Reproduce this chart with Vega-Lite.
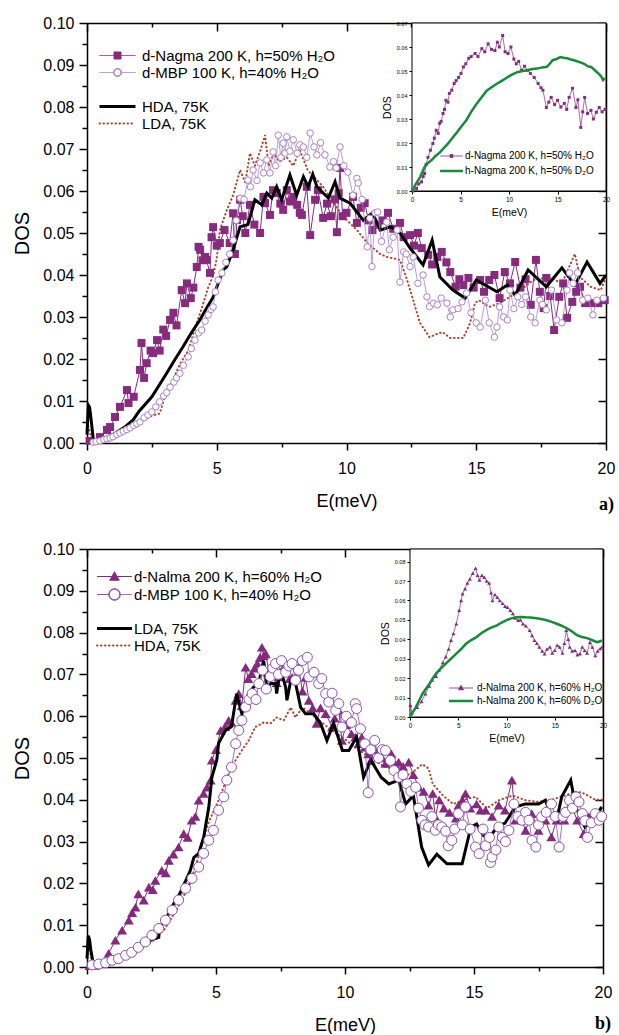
{
"padding": {"left": 12, "top": 15, "right": 0, "bottom": 0},
"autosize": {"type": "pad"},
"spacing": 27,
"config": {
  "view": {"stroke": null},
  "axis": {"grid": false, "domainColor": "black", "tickColor": "black", "labelColor": "black", "titleColor": "black", "labelFont": "Liberation Sans", "titleFont": "Liberation Sans", "titleFontWeight": "normal", "zindex": 1, "labelFlush": false, "labelOverlap": false},
  "legend": {"labelFont": "Liberation Sans", "labelColor": "black"}
},
"datasets": {
"A": [
{"s":"N","E":0.1,"D":0.0005},{"s":"N","E":0.5,"D":0.0014},{"s":"N","E":0.77,"D":0.0031},{"s":"N","E":0.89,"D":0.0038},{"s":"N","E":1.08,"D":0.0062},{"s":"N","E":1.27,"D":0.0086},{"s":"N","E":1.54,"D":0.0126},{"s":"N","E":1.6,"D":0.0095},{"s":"N","E":1.8,"D":0.011},{"s":"N","E":2.04,"D":0.0174},{"s":"N","E":2.1,"D":0.0238},{"s":"N","E":2.2,"D":0.0155},{"s":"N","E":2.3,"D":0.019},{"s":"N","E":2.45,"D":0.022},{"s":"N","E":2.55,"D":0.0214},{"s":"N","E":2.7,"D":0.0245},{"s":"N","E":2.8,"D":0.022},{"s":"N","E":2.94,"D":0.027},{"s":"N","E":3.05,"D":0.0255},{"s":"N","E":3.2,"D":0.0293},{"s":"N","E":3.33,"D":0.031},{"s":"N","E":3.45,"D":0.028},{"s":"N","E":3.65,"D":0.0364},{"s":"N","E":3.78,"D":0.0333},{"s":"N","E":3.85,"D":0.038},{"s":"N","E":4.0,"D":0.0345},{"s":"N","E":4.1,"D":0.037},{"s":"N","E":4.23,"D":0.0419},{"s":"N","E":4.3,"D":0.0467},{"s":"N","E":4.36,"D":0.046},{"s":"N","E":4.45,"D":0.0435},{"s":"N","E":4.55,"D":0.0443},{"s":"N","E":4.6,"D":0.0436},{"s":"N","E":4.74,"D":0.0405},{"s":"N","E":4.8,"D":0.049},{"s":"N","E":4.86,"D":0.0514},{"s":"N","E":5.0,"D":0.047},{"s":"N","E":5.12,"D":0.0476},{"s":"N","E":5.3,"D":0.0507},{"s":"N","E":5.5,"D":0.0476},{"s":"N","E":5.63,"D":0.0547},{"s":"N","E":5.7,"D":0.045},{"s":"N","E":5.78,"D":0.0531},{"s":"N","E":5.9,"D":0.0579},{"s":"N","E":6.0,"D":0.054},{"s":"N","E":6.1,"D":0.05},{"s":"N","E":6.28,"D":0.0567},{"s":"N","E":6.45,"D":0.052},{"s":"N","E":6.67,"D":0.05},{"s":"N","E":6.8,"D":0.0586},{"s":"N","E":6.86,"D":0.0571},{"s":"N","E":7.05,"D":0.0543},{"s":"N","E":7.17,"D":0.0602},{"s":"N","E":7.31,"D":0.0595},{"s":"N","E":7.45,"D":0.057},{"s":"N","E":7.56,"D":0.0555},{"s":"N","E":7.7,"D":0.0602},{"s":"N","E":7.82,"D":0.0575},{"s":"N","E":7.95,"D":0.0586},{"s":"N","E":8.1,"D":0.0567},{"s":"N","E":8.2,"D":0.0548},{"s":"N","E":8.28,"D":0.0543},{"s":"N","E":8.47,"D":0.061},{"s":"N","E":8.6,"D":0.0495},{"s":"N","E":8.79,"D":0.0579},{"s":"N","E":8.9,"D":0.0602},{"s":"N","E":9.1,"D":0.0536},{"s":"N","E":9.25,"D":0.057},{"s":"N","E":9.4,"D":0.054},{"s":"N","E":9.55,"D":0.058},{"s":"N","E":9.63,"D":0.0502},{"s":"N","E":9.7,"D":0.0595},{"s":"N","E":9.75,"D":0.0655},{"s":"N","E":9.85,"D":0.054},{"s":"N","E":10.0,"D":0.0548},{"s":"N","E":10.25,"D":0.0586},{"s":"N","E":10.4,"D":0.0524},{"s":"N","E":10.55,"D":0.056},{"s":"N","E":10.7,"D":0.0571},{"s":"N","E":10.85,"D":0.053},{"s":"N","E":11.0,"D":0.0507},{"s":"N","E":11.2,"D":0.052},{"s":"N","E":11.4,"D":0.053},{"s":"N","E":11.6,"D":0.0548},{"s":"N","E":11.8,"D":0.051},{"s":"N","E":12.06,"D":0.0524},{"s":"N","E":12.2,"D":0.049},{"s":"N","E":12.45,"D":0.0495},{"s":"N","E":12.6,"D":0.047},{"s":"N","E":12.75,"D":0.05},{"s":"N","E":12.9,"D":0.0464},{"s":"N","E":13.15,"D":0.0448},{"s":"N","E":13.3,"D":0.0425},{"s":"N","E":13.5,"D":0.0443},{"s":"N","E":13.67,"D":0.0455},{"s":"N","E":13.85,"D":0.043},{"s":"N","E":14.0,"D":0.0407},{"s":"N","E":14.2,"D":0.0372},{"s":"N","E":14.35,"D":0.039},{"s":"N","E":14.5,"D":0.0376},{"s":"N","E":14.7,"D":0.0393},{"s":"N","E":14.9,"D":0.037},{"s":"N","E":15.15,"D":0.0388},{"s":"N","E":15.3,"D":0.036},{"s":"N","E":15.5,"D":0.0388},{"s":"N","E":15.7,"D":0.04},{"s":"N","E":15.9,"D":0.0345},{"s":"N","E":16.1,"D":0.0407},{"s":"N","E":16.3,"D":0.038},{"s":"N","E":16.5,"D":0.0431},{"s":"N","E":16.7,"D":0.037},{"s":"N","E":16.9,"D":0.039},{"s":"N","E":17.1,"D":0.0329},{"s":"N","E":17.3,"D":0.0436},{"s":"N","E":17.45,"D":0.036},{"s":"N","E":17.6,"D":0.0321},{"s":"N","E":17.7,"D":0.0393},{"s":"N","E":17.85,"D":0.035},{"s":"N","E":18.0,"D":0.0269},{"s":"N","E":18.2,"D":0.0348},{"s":"N","E":18.35,"D":0.038},{"s":"N","E":18.5,"D":0.0298},{"s":"N","E":18.7,"D":0.0336},{"s":"N","E":18.85,"D":0.036},{"s":"N","E":19.0,"D":0.0372},{"s":"N","E":19.2,"D":0.0333},{"s":"N","E":19.45,"D":0.0333},{"s":"N","E":19.7,"D":0.0333},{"s":"N","E":19.95,"D":0.034},
{"s":"M","E":0.24,"D":0.0002},{"s":"M","E":0.35,"D":0.0003},{"s":"M","E":0.5,"D":0.0005},{"s":"M","E":0.65,"D":0.0008},{"s":"M","E":0.77,"D":0.001},{"s":"M","E":0.89,"D":0.0012},{"s":"M","E":1.0,"D":0.0015},{"s":"M","E":1.15,"D":0.002},{"s":"M","E":1.27,"D":0.0024},{"s":"M","E":1.4,"D":0.0028},{"s":"M","E":1.53,"D":0.0032},{"s":"M","E":1.66,"D":0.0036},{"s":"M","E":1.8,"D":0.0042},{"s":"M","E":1.92,"D":0.0046},{"s":"M","E":2.04,"D":0.005},{"s":"M","E":2.2,"D":0.006},{"s":"M","E":2.35,"D":0.0067},{"s":"M","E":2.5,"D":0.0074},{"s":"M","E":2.65,"D":0.0086},{"s":"M","E":2.8,"D":0.0098},{"s":"M","E":2.95,"D":0.0112},{"s":"M","E":3.07,"D":0.012},{"s":"M","E":3.2,"D":0.0133},{"s":"M","E":3.35,"D":0.0145},{"s":"M","E":3.45,"D":0.0155},{"s":"M","E":3.58,"D":0.0166},{"s":"M","E":3.72,"D":0.0185},{"s":"M","E":3.9,"D":0.0205},{"s":"M","E":4.02,"D":0.0225},{"s":"M","E":4.16,"D":0.0245},{"s":"M","E":4.3,"D":0.0262},{"s":"M","E":4.42,"D":0.0269},{"s":"M","E":4.55,"D":0.029},{"s":"M","E":4.67,"D":0.0305},{"s":"M","E":4.78,"D":0.0318},{"s":"M","E":4.86,"D":0.0324},{"s":"M","E":4.95,"D":0.036},{"s":"M","E":5.05,"D":0.0388},{"s":"M","E":5.2,"D":0.0405},{"s":"M","E":5.35,"D":0.043},{"s":"M","E":5.5,"D":0.045},{"s":"M","E":5.63,"D":0.0483},{"s":"M","E":5.75,"D":0.053},{"s":"M","E":5.9,"D":0.0583},{"s":"M","E":6.05,"D":0.058},{"s":"M","E":6.2,"D":0.0626},{"s":"M","E":6.3,"D":0.061},{"s":"M","E":6.4,"D":0.065},{"s":"M","E":6.55,"D":0.0625},{"s":"M","E":6.67,"D":0.0667},{"s":"M","E":6.8,"D":0.0643},{"s":"M","E":6.93,"D":0.0674},{"s":"M","E":7.05,"D":0.0643},{"s":"M","E":7.17,"D":0.0693},{"s":"M","E":7.27,"D":0.066},{"s":"M","E":7.37,"D":0.0733},{"s":"M","E":7.47,"D":0.068},{"s":"M","E":7.56,"D":0.0714},{"s":"M","E":7.63,"D":0.069},{"s":"M","E":7.7,"D":0.0729},{"s":"M","E":7.82,"D":0.0695},{"s":"M","E":7.95,"D":0.0722},{"s":"M","E":8.1,"D":0.069},{"s":"M","E":8.2,"D":0.071},{"s":"M","E":8.34,"D":0.0705},{"s":"M","E":8.47,"D":0.068},{"s":"M","E":8.6,"D":0.0738},{"s":"M","E":8.75,"D":0.0705},{"s":"M","E":8.86,"D":0.0686},{"s":"M","E":9.0,"D":0.0715},{"s":"M","E":9.17,"D":0.0686},{"s":"M","E":9.36,"D":0.0657},{"s":"M","E":9.5,"D":0.067},{"s":"M","E":9.6,"D":0.0655},{"s":"M","E":9.75,"D":0.0705},{"s":"M","E":9.9,"D":0.066},{"s":"M","E":10.05,"D":0.0645},{"s":"M","E":10.25,"D":0.059},{"s":"M","E":10.4,"D":0.063},{"s":"M","E":10.45,"D":0.0619},{"s":"M","E":10.6,"D":0.058},{"s":"M","E":10.8,"D":0.0467},{"s":"M","E":10.9,"D":0.0535},{"s":"M","E":10.98,"D":0.042},{"s":"M","E":11.1,"D":0.0548},{"s":"M","E":11.2,"D":0.055},{"s":"M","E":11.35,"D":0.048},{"s":"M","E":11.55,"D":0.0526},{"s":"M","E":11.65,"D":0.046},{"s":"M","E":11.8,"D":0.049},{"s":"M","E":11.95,"D":0.0507},{"s":"M","E":12.06,"D":0.0383},{"s":"M","E":12.2,"D":0.0455},{"s":"M","E":12.3,"D":0.045},{"s":"M","E":12.45,"D":0.042},{"s":"M","E":12.57,"D":0.0443},{"s":"M","E":12.75,"D":0.038},{"s":"M","E":12.95,"D":0.04},{"s":"M","E":13.1,"D":0.0348},{"s":"M","E":13.2,"D":0.0325},{"s":"M","E":13.35,"D":0.0333},{"s":"M","E":13.5,"D":0.0329},{"s":"M","E":13.65,"D":0.0345},{"s":"M","E":13.87,"D":0.0333},{"s":"M","E":14.0,"D":0.03},{"s":"M","E":14.1,"D":0.0317},{"s":"M","E":14.3,"D":0.032},{"s":"M","E":14.45,"D":0.0336},{"s":"M","E":14.63,"D":0.0357},{"s":"M","E":14.8,"D":0.031},{"s":"M","E":15.0,"D":0.0286},{"s":"M","E":15.15,"D":0.0276},{"s":"M","E":15.35,"D":0.034},{"s":"M","E":15.5,"D":0.0286},{"s":"M","E":15.7,"D":0.0252},{"s":"M","E":15.8,"D":0.0276},{"s":"M","E":15.9,"D":0.0324},{"s":"M","E":16.05,"D":0.03},{"s":"M","E":16.2,"D":0.0293},{"s":"M","E":16.3,"D":0.0364},{"s":"M","E":16.45,"D":0.032},{"s":"M","E":16.6,"D":0.0348},{"s":"M","E":16.75,"D":0.033},{"s":"M","E":16.9,"D":0.0348},{"s":"M","E":17.1,"D":0.03},{"s":"M","E":17.27,"D":0.0286},{"s":"M","E":17.45,"D":0.034},{"s":"M","E":17.55,"D":0.033},{"s":"M","E":17.7,"D":0.0317},{"s":"M","E":17.9,"D":0.0364},{"s":"M","E":18.1,"D":0.0293},{"s":"M","E":18.3,"D":0.0286},{"s":"M","E":18.5,"D":0.0364},{"s":"M","E":18.6,"D":0.0405},{"s":"M","E":18.73,"D":0.038},{"s":"M","E":18.9,"D":0.0405},{"s":"M","E":19.1,"D":0.034},{"s":"M","E":19.3,"D":0.0345},{"s":"M","E":19.5,"D":0.0305},{"s":"M","E":19.65,"D":0.034},{"s":"M","E":19.9,"D":0.0345},
{"s":"H","E":0.0,"D":0.002},{"s":"H","E":0.05,"D":0.009},{"s":"H","E":0.1,"D":0.0085},{"s":"H","E":0.15,"D":0.006},{"s":"H","E":0.25,"D":0.0005},{"s":"H","E":0.5,"D":0.0008},{"s":"H","E":1.0,"D":0.002},{"s":"H","E":1.5,"D":0.004},{"s":"H","E":1.78,"D":0.0055},{"s":"H","E":2.0,"D":0.0075},{"s":"H","E":2.5,"D":0.011},{"s":"H","E":3.07,"D":0.0166},{"s":"H","E":3.4,"D":0.02},{"s":"H","E":3.7,"D":0.0229},{"s":"H","E":4.0,"D":0.026},{"s":"H","E":4.35,"D":0.0293},{"s":"H","E":4.6,"D":0.032},{"s":"H","E":4.87,"D":0.0348},{"s":"H","E":5.05,"D":0.038},{"s":"H","E":5.25,"D":0.0412},{"s":"H","E":5.39,"D":0.042},{"s":"H","E":5.63,"D":0.046},{"s":"H","E":5.78,"D":0.0491},{"s":"H","E":5.9,"D":0.0515},{"s":"H","E":6.2,"D":0.052},{"s":"H","E":6.47,"D":0.0579},{"s":"H","E":6.74,"D":0.0567},{"s":"H","E":6.93,"D":0.0595},{"s":"H","E":7.12,"D":0.0583},{"s":"H","E":7.31,"D":0.061},{"s":"H","E":7.5,"D":0.0579},{"s":"H","E":7.82,"D":0.0638},{"s":"H","E":8.08,"D":0.059},{"s":"H","E":8.34,"D":0.0634},{"s":"H","E":8.52,"D":0.061},{"s":"H","E":8.7,"D":0.064},{"s":"H","E":8.86,"D":0.061},{"s":"H","E":9.3,"D":0.0583},{"s":"H","E":9.56,"D":0.0622},{"s":"H","E":9.75,"D":0.0583},{"s":"H","E":10.14,"D":0.0571},{"s":"H","E":10.4,"D":0.055},{"s":"H","E":10.65,"D":0.053},{"s":"H","E":11.0,"D":0.0548},{"s":"H","E":11.3,"D":0.0507},{"s":"H","E":11.7,"D":0.0515},{"s":"H","E":12.06,"D":0.05},{"s":"H","E":12.45,"D":0.0464},{"s":"H","E":12.95,"D":0.0424},{"s":"H","E":13.3,"D":0.0483},{"s":"H","E":13.6,"D":0.0395},{"s":"H","E":14.1,"D":0.0364},{"s":"H","E":14.57,"D":0.0345},{"s":"H","E":15.0,"D":0.0388},{"s":"H","E":15.8,"D":0.036},{"s":"H","E":16.2,"D":0.0376},{"s":"H","E":16.5,"D":0.0352},{"s":"H","E":17.0,"D":0.0412},{"s":"H","E":17.7,"D":0.0372},{"s":"H","E":18.3,"D":0.0417},{"s":"H","E":18.8,"D":0.0376},{"s":"H","E":19.27,"D":0.0431},{"s":"H","E":19.77,"D":0.038},{"s":"H","E":20.0,"D":0.04},
{"s":"L","E":0.05,"D":0.004},{"s":"L","E":0.2,"D":0.0005},{"s":"L","E":0.5,"D":0.0005},{"s":"L","E":1.0,"D":0.0015},{"s":"L","E":1.5,"D":0.003},{"s":"L","E":2.0,"D":0.005},{"s":"L","E":2.5,"D":0.0065},{"s":"L","E":2.8,"D":0.007},{"s":"L","E":3.0,"D":0.011},{"s":"L","E":3.3,"D":0.015},{"s":"L","E":3.6,"D":0.019},{"s":"L","E":3.9,"D":0.022},{"s":"L","E":4.2,"D":0.028},{"s":"L","E":4.4,"D":0.0317},{"s":"L","E":4.67,"D":0.037},{"s":"L","E":4.87,"D":0.04},{"s":"L","E":5.0,"D":0.044},{"s":"L","E":5.12,"D":0.0507},{"s":"L","E":5.39,"D":0.0555},{"s":"L","E":5.63,"D":0.059},{"s":"L","E":5.9,"D":0.065},{"s":"L","E":6.1,"D":0.062},{"s":"L","E":6.28,"D":0.069},{"s":"L","E":6.47,"D":0.066},{"s":"L","E":6.7,"D":0.07},{"s":"L","E":6.86,"D":0.0733},{"s":"L","E":7.0,"D":0.066},{"s":"L","E":7.2,"D":0.069},{"s":"L","E":7.4,"D":0.067},{"s":"L","E":7.7,"D":0.068},{"s":"L","E":7.95,"D":0.066},{"s":"L","E":8.2,"D":0.0698},{"s":"L","E":8.5,"D":0.065},{"s":"L","E":8.8,"D":0.063},{"s":"L","E":9.1,"D":0.061},{"s":"L","E":9.5,"D":0.0571},{"s":"L","E":9.86,"D":0.054},{"s":"L","E":10.4,"D":0.0507},{"s":"L","E":10.8,"D":0.0476},{"s":"L","E":11.3,"D":0.045},{"s":"L","E":11.55,"D":0.0443},{"s":"L","E":12.06,"D":0.0436},{"s":"L","E":12.3,"D":0.0395},{"s":"L","E":12.57,"D":0.034},{"s":"L","E":12.83,"D":0.0286},{"s":"L","E":13.2,"D":0.0252},{"s":"L","E":13.5,"D":0.026},{"s":"L","E":13.7,"D":0.0264},{"s":"L","E":14.0,"D":0.025},{"s":"L","E":14.5,"D":0.025},{"s":"L","E":14.76,"D":0.0285},{"s":"L","E":14.95,"D":0.0333},{"s":"L","E":15.1,"D":0.034},{"s":"L","E":15.5,"D":0.0324},{"s":"L","E":15.9,"D":0.0333},{"s":"L","E":16.3,"D":0.0348},{"s":"L","E":16.7,"D":0.0364},{"s":"L","E":17.2,"D":0.0388},{"s":"L","E":17.8,"D":0.0395},{"s":"L","E":18.3,"D":0.038},{"s":"L","E":18.8,"D":0.045},{"s":"L","E":19.0,"D":0.0395},{"s":"L","E":19.4,"D":0.0372},{"s":"L","E":19.8,"D":0.0364},{"s":"L","E":20.0,"D":0.0395}
],
"IA": [
{"s":"N","E":0.1,"D":0.0},{"s":"N","E":0.47,"D":0.001},{"s":"N","E":0.7,"D":0.003},{"s":"N","E":0.98,"D":0.0038},{"s":"N","E":1.15,"D":0.006},{"s":"N","E":1.3,"D":0.0073},{"s":"N","E":1.45,"D":0.011},{"s":"N","E":1.65,"D":0.014},{"s":"N","E":1.9,"D":0.017},{"s":"N","E":2.15,"D":0.0198},{"s":"N","E":2.3,"D":0.022},{"s":"N","E":2.5,"D":0.0253},{"s":"N","E":2.7,"D":0.024},{"s":"N","E":2.85,"D":0.0282},{"s":"N","E":3.0,"D":0.029},{"s":"N","E":3.2,"D":0.0323},{"s":"N","E":3.35,"D":0.034},{"s":"N","E":3.5,"D":0.0378},{"s":"N","E":3.7,"D":0.037},{"s":"N","E":3.85,"D":0.0407},{"s":"N","E":4.1,"D":0.042},{"s":"N","E":4.35,"D":0.0448},{"s":"N","E":4.55,"D":0.046},{"s":"N","E":4.8,"D":0.0473},{"s":"N","E":5.05,"D":0.049},{"s":"N","E":5.3,"D":0.0517},{"s":"N","E":5.55,"D":0.053},{"s":"N","E":5.85,"D":0.0553},{"s":"N","E":6.1,"D":0.056},{"s":"N","E":6.5,"D":0.0573},{"s":"N","E":6.8,"D":0.056},{"s":"N","E":7.2,"D":0.0593},{"s":"N","E":7.5,"D":0.058},{"s":"N","E":7.85,"D":0.0613},{"s":"N","E":8.2,"D":0.059},{"s":"N","E":8.55,"D":0.0585},{"s":"N","E":8.8,"D":0.062},{"s":"N","E":9.0,"D":0.06},{"s":"N","E":9.35,"D":0.0648},{"s":"N","E":9.6,"D":0.058},{"s":"N","E":9.9,"D":0.0573},{"s":"N","E":10.2,"D":0.06},{"s":"N","E":10.5,"D":0.055},{"s":"N","E":10.75,"D":0.053},{"s":"N","E":11.0,"D":0.054},{"s":"N","E":11.3,"D":0.0503},{"s":"N","E":11.6,"D":0.052},{"s":"N","E":11.9,"D":0.0503},{"s":"N","E":12.2,"D":0.049},{"s":"N","E":12.6,"D":0.0473},{"s":"N","E":13.0,"D":0.0448},{"s":"N","E":13.3,"D":0.043},{"s":"N","E":13.5,"D":0.042},{"s":"N","E":13.85,"D":0.0348},{"s":"N","E":14.1,"D":0.037},{"s":"N","E":14.35,"D":0.039},{"s":"N","E":14.7,"D":0.036},{"s":"N","E":15.0,"D":0.0378},{"s":"N","E":15.35,"D":0.035},{"s":"N","E":15.7,"D":0.0365},{"s":"N","E":15.95,"D":0.034},{"s":"N","E":16.2,"D":0.039},{"s":"N","E":16.55,"D":0.0428},{"s":"N","E":16.9,"D":0.0348},{"s":"N","E":17.1,"D":0.038},{"s":"N","E":17.4,"D":0.0265},{"s":"N","E":17.6,"D":0.033},{"s":"N","E":17.8,"D":0.039},{"s":"N","E":18.1,"D":0.0323},{"s":"N","E":18.45,"D":0.0336},{"s":"N","E":18.7,"D":0.03},{"s":"N","E":19.0,"D":0.0328},{"s":"N","E":19.3,"D":0.0348},{"s":"N","E":19.6,"D":0.033},{"s":"N","E":19.9,"D":0.034},
{"s":"G","E":0.0,"D":0.0},{"s":"G","E":0.4,"D":0.003},{"s":"G","E":0.82,"D":0.0057},{"s":"G","E":1.3,"D":0.01},{"s":"G","E":1.6,"D":0.0115},{"s":"G","E":2.0,"D":0.0128},{"s":"G","E":2.4,"D":0.0145},{"s":"G","E":2.85,"D":0.016},{"s":"G","E":3.3,"D":0.018},{"s":"G","E":3.7,"D":0.0197},{"s":"G","E":4.1,"D":0.0218},{"s":"G","E":4.55,"D":0.024},{"s":"G","E":5.1,"D":0.027},{"s":"G","E":5.6,"D":0.0295},{"s":"G","E":6.1,"D":0.033},{"s":"G","E":6.65,"D":0.0363},{"s":"G","E":7.2,"D":0.0392},{"s":"G","E":7.7,"D":0.0418},{"s":"G","E":8.2,"D":0.0432},{"s":"G","E":8.75,"D":0.0447},{"s":"G","E":9.3,"D":0.046},{"s":"G","E":9.8,"D":0.0473},{"s":"G","E":10.3,"D":0.0485},{"s":"G","E":10.85,"D":0.0495},{"s":"G","E":11.4,"D":0.05},{"s":"G","E":11.9,"D":0.0503},{"s":"G","E":12.4,"D":0.0508},{"s":"G","E":12.9,"D":0.051},{"s":"G","E":13.4,"D":0.0515},{"s":"G","E":13.9,"D":0.0517},{"s":"G","E":14.2,"D":0.053},{"s":"G","E":14.5,"D":0.0545},{"s":"G","E":14.9,"D":0.055},{"s":"G","E":15.3,"D":0.0558},{"s":"G","E":15.6,"D":0.0555},{"s":"G","E":16.0,"D":0.0553},{"s":"G","E":16.35,"D":0.0548},{"s":"G","E":16.7,"D":0.0545},{"s":"G","E":17.2,"D":0.0538},{"s":"G","E":17.75,"D":0.053},{"s":"G","E":18.1,"D":0.052},{"s":"G","E":18.45,"D":0.0517},{"s":"G","E":18.8,"D":0.0505},{"s":"G","E":19.2,"D":0.049},{"s":"G","E":19.5,"D":0.0478},{"s":"G","E":19.7,"D":0.0462},{"s":"G","E":19.9,"D":0.047}
],
"B": [
{"s":"T","E":0.1,"D":0.0003},{"s":"T","E":0.3,"D":0.0004},{"s":"T","E":0.57,"D":0.0009},{"s":"T","E":0.84,"D":0.0033},{"s":"T","E":1.1,"D":0.0064},{"s":"T","E":1.36,"D":0.0088},{"s":"T","E":1.62,"D":0.0112},{"s":"T","E":1.75,"D":0.013},{"s":"T","E":1.88,"D":0.0143},{"s":"T","E":1.99,"D":0.0175},{"s":"T","E":2.2,"D":0.016},{"s":"T","E":2.4,"D":0.0191},{"s":"T","E":2.55,"D":0.0185},{"s":"T","E":2.65,"D":0.0207},{"s":"T","E":2.9,"D":0.0231},{"s":"T","E":3.05,"D":0.0225},{"s":"T","E":3.17,"D":0.0255},{"s":"T","E":3.35,"D":0.027},{"s":"T","E":3.55,"D":0.0287},{"s":"T","E":3.75,"D":0.0319},{"s":"T","E":3.9,"D":0.031},{"s":"T","E":4.06,"D":0.0351},{"s":"T","E":4.2,"D":0.036},{"s":"T","E":4.33,"D":0.0399},{"s":"T","E":4.52,"D":0.0415},{"s":"T","E":4.65,"D":0.043},{"s":"T","E":4.79,"D":0.0447},{"s":"T","E":4.84,"D":0.0495},{"s":"T","E":5.0,"D":0.052},{"s":"T","E":5.18,"D":0.0566},{"s":"T","E":5.35,"D":0.0575},{"s":"T","E":5.49,"D":0.059},{"s":"T","E":5.6,"D":0.0585},{"s":"T","E":5.76,"D":0.0638},{"s":"T","E":5.88,"D":0.0654},{"s":"T","E":6.0,"D":0.0625},{"s":"T","E":6.15,"D":0.0717},{"s":"T","E":6.25,"D":0.069},{"s":"T","E":6.38,"D":0.0702},{"s":"T","E":6.5,"D":0.0715},{"s":"T","E":6.6,"D":0.0726},{"s":"T","E":6.7,"D":0.074},{"s":"T","E":6.78,"D":0.0765},{"s":"T","E":6.85,"D":0.0745},{"s":"T","E":6.93,"D":0.0749},{"s":"T","E":7.04,"D":0.0709},{"s":"T","E":7.2,"D":0.072},{"s":"T","E":7.35,"D":0.068},{"s":"T","E":7.43,"D":0.0694},{"s":"T","E":7.55,"D":0.0705},{"s":"T","E":7.7,"D":0.0726},{"s":"T","E":7.85,"D":0.069},{"s":"T","E":7.95,"D":0.0693},{"s":"T","E":8.1,"D":0.0695},{"s":"T","E":8.2,"D":0.0717},{"s":"T","E":8.35,"D":0.066},{"s":"T","E":8.47,"D":0.0693},{"s":"T","E":8.6,"D":0.0638},{"s":"T","E":8.75,"D":0.062},{"s":"T","E":8.9,"D":0.0583},{"s":"T","E":9.05,"D":0.062},{"s":"T","E":9.25,"D":0.0606},{"s":"T","E":9.5,"D":0.0574},{"s":"T","E":9.6,"D":0.0595},{"s":"T","E":9.76,"D":0.0614},{"s":"T","E":9.88,"D":0.0542},{"s":"T","E":10.05,"D":0.058},{"s":"T","E":10.25,"D":0.0558},{"s":"T","E":10.4,"D":0.055},{"s":"T","E":10.52,"D":0.0534},{"s":"T","E":10.65,"D":0.055},{"s":"T","E":10.77,"D":0.0526},{"s":"T","E":10.9,"D":0.051},{"s":"T","E":11.0,"D":0.0494},{"s":"T","E":11.15,"D":0.052},{"s":"T","E":11.3,"D":0.0502},{"s":"T","E":11.45,"D":0.05},{"s":"T","E":11.57,"D":0.0487},{"s":"T","E":11.7,"D":0.05},{"s":"T","E":11.8,"D":0.051},{"s":"T","E":11.95,"D":0.0485},{"s":"T","E":12.08,"D":0.049},{"s":"T","E":12.25,"D":0.048},{"s":"T","E":12.47,"D":0.049},{"s":"T","E":12.65,"D":0.046},{"s":"T","E":12.86,"D":0.043},{"s":"T","E":13.05,"D":0.042},{"s":"T","E":13.24,"D":0.0387},{"s":"T","E":13.4,"D":0.0415},{"s":"T","E":13.5,"D":0.0359},{"s":"T","E":13.65,"D":0.04},{"s":"T","E":13.83,"D":0.038},{"s":"T","E":14.05,"D":0.037},{"s":"T","E":14.3,"D":0.0356},{"s":"T","E":14.4,"D":0.0387},{"s":"T","E":14.55,"D":0.04},{"s":"T","E":14.67,"D":0.0415},{"s":"T","E":14.85,"D":0.038},{"s":"T","E":15.1,"D":0.039},{"s":"T","E":15.25,"D":0.0375},{"s":"T","E":15.45,"D":0.0375},{"s":"T","E":15.7,"D":0.036},{"s":"T","E":15.96,"D":0.0387},{"s":"T","E":16.2,"D":0.0375},{"s":"T","E":16.47,"D":0.0447},{"s":"T","E":16.6,"D":0.0351},{"s":"T","E":16.8,"D":0.036},{"s":"T","E":17.0,"D":0.0327},{"s":"T","E":17.24,"D":0.0367},{"s":"T","E":17.5,"D":0.0327},{"s":"T","E":17.77,"D":0.0351},{"s":"T","E":18.0,"D":0.0311},{"s":"T","E":18.2,"D":0.0351},{"s":"T","E":18.35,"D":0.036},{"s":"T","E":18.5,"D":0.0351},{"s":"T","E":18.75,"D":0.039},{"s":"T","E":19.0,"D":0.0351},{"s":"T","E":19.25,"D":0.0319},{"s":"T","E":19.45,"D":0.0359},{"s":"T","E":19.7,"D":0.0359},{"s":"T","E":19.95,"D":0.0363},
{"s":"M","E":0.2,"D":0.0005},{"s":"M","E":0.45,"D":0.0007},{"s":"M","E":0.72,"D":0.001},{"s":"M","E":0.97,"D":0.0016},{"s":"M","E":1.22,"D":0.002},{"s":"M","E":1.5,"D":0.0028},{"s":"M","E":1.73,"D":0.0035},{"s":"M","E":1.99,"D":0.0047},{"s":"M","E":2.26,"D":0.006},{"s":"M","E":2.52,"D":0.0076},{"s":"M","E":2.78,"D":0.0092},{"s":"M","E":3.04,"D":0.0112},{"s":"M","E":3.3,"D":0.0136},{"s":"M","E":3.55,"D":0.016},{"s":"M","E":3.82,"D":0.0188},{"s":"M","E":4.07,"D":0.0212},{"s":"M","E":4.33,"D":0.0239},{"s":"M","E":4.52,"D":0.0272},{"s":"M","E":4.72,"D":0.0303},{"s":"M","E":4.9,"D":0.0327},{"s":"M","E":5.1,"D":0.0375},{"s":"M","E":5.3,"D":0.0407},{"s":"M","E":5.42,"D":0.0447},{"s":"M","E":5.6,"D":0.0478},{"s":"M","E":5.76,"D":0.0534},{"s":"M","E":5.88,"D":0.0566},{"s":"M","E":6.0,"D":0.059},{"s":"M","E":6.15,"D":0.0622},{"s":"M","E":6.28,"D":0.064},{"s":"M","E":6.4,"D":0.0654},{"s":"M","E":6.55,"D":0.064},{"s":"M","E":6.66,"D":0.0678},{"s":"M","E":6.8,"D":0.071},{"s":"M","E":6.95,"D":0.0665},{"s":"M","E":7.1,"D":0.0695},{"s":"M","E":7.2,"D":0.0715},{"s":"M","E":7.31,"D":0.0726},{"s":"M","E":7.42,"D":0.07},{"s":"M","E":7.54,"D":0.0733},{"s":"M","E":7.7,"D":0.0705},{"s":"M","E":7.82,"D":0.072},{"s":"M","E":7.95,"D":0.0726},{"s":"M","E":8.08,"D":0.0686},{"s":"M","E":8.2,"D":0.071},{"s":"M","E":8.35,"D":0.0733},{"s":"M","E":8.54,"D":0.0741},{"s":"M","E":8.6,"D":0.0694},{"s":"M","E":8.8,"D":0.0705},{"s":"M","E":8.98,"D":0.0678},{"s":"M","E":9.1,"D":0.069},{"s":"M","E":9.25,"D":0.0654},{"s":"M","E":9.37,"D":0.0634},{"s":"M","E":9.5,"D":0.0655},{"s":"M","E":9.64,"D":0.0614},{"s":"M","E":9.76,"D":0.063},{"s":"M","E":9.88,"D":0.0574},{"s":"M","E":10.05,"D":0.06},{"s":"M","E":10.25,"D":0.0585},{"s":"M","E":10.4,"D":0.063},{"s":"M","E":10.45,"D":0.0618},{"s":"M","E":10.6,"D":0.057},{"s":"M","E":10.77,"D":0.0534},{"s":"M","E":10.9,"D":0.0417},{"s":"M","E":11.0,"D":0.052},{"s":"M","E":11.15,"D":0.0542},{"s":"M","E":11.3,"D":0.05},{"s":"M","E":11.45,"D":0.052},{"s":"M","E":11.57,"D":0.0518},{"s":"M","E":11.76,"D":0.0494},{"s":"M","E":11.9,"D":0.047},{"s":"M","E":12.08,"D":0.0454},{"s":"M","E":12.15,"D":0.0383},{"s":"M","E":12.25,"D":0.046},{"s":"M","E":12.4,"D":0.0438},{"s":"M","E":12.55,"D":0.042},{"s":"M","E":12.74,"D":0.043},{"s":"M","E":12.85,"D":0.038},{"s":"M","E":12.98,"D":0.0351},{"s":"M","E":13.1,"D":0.034},{"s":"M","E":13.24,"D":0.0335},{"s":"M","E":13.37,"D":0.036},{"s":"M","E":13.5,"D":0.0327},{"s":"M","E":13.62,"D":0.034},{"s":"M","E":13.75,"D":0.0335},{"s":"M","E":13.9,"D":0.0325},{"s":"M","E":14.0,"D":0.029},{"s":"M","E":14.14,"D":0.0303},{"s":"M","E":14.25,"D":0.033},{"s":"M","E":14.4,"D":0.0367},{"s":"M","E":14.55,"D":0.034},{"s":"M","E":14.67,"D":0.0383},{"s":"M","E":14.85,"D":0.033},{"s":"M","E":15.06,"D":0.0287},{"s":"M","E":15.2,"D":0.0271},{"s":"M","E":15.35,"D":0.033},{"s":"M","E":15.45,"D":0.029},{"s":"M","E":15.6,"D":0.031},{"s":"M","E":15.64,"D":0.025},{"s":"M","E":15.7,"D":0.0263},{"s":"M","E":15.85,"D":0.028},{"s":"M","E":15.96,"D":0.0335},{"s":"M","E":16.1,"D":0.031},{"s":"M","E":16.22,"D":0.03},{"s":"M","E":16.35,"D":0.0327},{"s":"M","E":16.55,"D":0.039},{"s":"M","E":16.7,"D":0.036},{"s":"M","E":16.86,"D":0.0351},{"s":"M","E":17.0,"D":0.037},{"s":"M","E":17.13,"D":0.0351},{"s":"M","E":17.25,"D":0.0303},{"s":"M","E":17.4,"D":0.0287},{"s":"M","E":17.5,"D":0.034},{"s":"M","E":17.62,"D":0.0359},{"s":"M","E":17.8,"D":0.037},{"s":"M","E":18.0,"D":0.039},{"s":"M","E":18.15,"D":0.036},{"s":"M","E":18.3,"D":0.0287},{"s":"M","E":18.45,"D":0.036},{"s":"M","E":18.55,"D":0.037},{"s":"M","E":18.7,"D":0.0399},{"s":"M","E":18.82,"D":0.038},{"s":"M","E":18.95,"D":0.0407},{"s":"M","E":19.07,"D":0.0395},{"s":"M","E":19.2,"D":0.0367},{"s":"M","E":19.3,"D":0.035},{"s":"M","E":19.4,"D":0.031},{"s":"M","E":19.55,"D":0.0345},{"s":"M","E":19.7,"D":0.0367},{"s":"M","E":19.85,"D":0.0351},{"s":"M","E":19.95,"D":0.036},
{"s":"L","E":0.0,"D":0.002},{"s":"L","E":0.05,"D":0.0075},{"s":"L","E":0.1,"D":0.0065},{"s":"L","E":0.15,"D":0.004},{"s":"L","E":0.25,"D":0.0005},{"s":"L","E":0.5,"D":0.0006},{"s":"L","E":1.0,"D":0.0015},{"s":"L","E":1.5,"D":0.003},{"s":"L","E":2.0,"D":0.0048},{"s":"L","E":2.5,"D":0.0065},{"s":"L","E":2.78,"D":0.0071},{"s":"L","E":2.82,"D":0.0095},{"s":"L","E":3.05,"D":0.0112},{"s":"L","E":3.3,"D":0.0145},{"s":"L","E":3.6,"D":0.0176},{"s":"L","E":4.0,"D":0.023},{"s":"L","E":4.14,"D":0.0262},{"s":"L","E":4.33,"D":0.0272},{"s":"L","E":4.52,"D":0.031},{"s":"L","E":4.72,"D":0.0382},{"s":"L","E":4.84,"D":0.0454},{"s":"L","E":5.03,"D":0.0495},{"s":"L","E":5.1,"D":0.0535},{"s":"L","E":5.37,"D":0.0566},{"s":"L","E":5.6,"D":0.0575},{"s":"L","E":5.8,"D":0.0654},{"s":"L","E":6.0,"D":0.0606},{"s":"L","E":6.07,"D":0.0619},{"s":"L","E":6.2,"D":0.0645},{"s":"L","E":6.27,"D":0.0654},{"s":"L","E":6.45,"D":0.0669},{"s":"L","E":6.66,"D":0.0678},{"s":"L","E":6.78,"D":0.0717},{"s":"L","E":6.85,"D":0.0733},{"s":"L","E":6.97,"D":0.0669},{"s":"L","E":7.12,"D":0.0678},{"s":"L","E":7.31,"D":0.0678},{"s":"L","E":7.35,"D":0.0654},{"s":"L","E":7.5,"D":0.0713},{"s":"L","E":7.7,"D":0.0669},{"s":"L","E":7.75,"D":0.0638},{"s":"L","E":7.9,"D":0.0686},{"s":"L","E":8.08,"D":0.068},{"s":"L","E":8.28,"D":0.0621},{"s":"L","E":8.47,"D":0.0606},{"s":"L","E":8.79,"D":0.0606},{"s":"L","E":9.05,"D":0.0583},{"s":"L","E":9.3,"D":0.0542},{"s":"L","E":9.56,"D":0.0583},{"s":"L","E":9.9,"D":0.0518},{"s":"L","E":10.15,"D":0.0518},{"s":"L","E":10.45,"D":0.055},{"s":"L","E":10.72,"D":0.0454},{"s":"L","E":11.0,"D":0.0495},{"s":"L","E":11.4,"D":0.0454},{"s":"L","E":11.7,"D":0.0438},{"s":"L","E":12.08,"D":0.0447},{"s":"L","E":12.35,"D":0.039},{"s":"L","E":12.65,"D":0.041},{"s":"L","E":12.97,"D":0.0287},{"s":"L","E":13.24,"D":0.0244},{"s":"L","E":13.56,"D":0.027},{"s":"L","E":13.95,"D":0.0247},{"s":"L","E":14.54,"D":0.0247},{"s":"L","E":14.88,"D":0.0335},{"s":"L","E":15.1,"D":0.0342},{"s":"L","E":15.37,"D":0.0314},{"s":"L","E":15.6,"D":0.031},{"s":"L","E":15.9,"D":0.0335},{"s":"L","E":16.2,"D":0.0344},{"s":"L","E":16.6,"D":0.0383},{"s":"L","E":16.98,"D":0.039},{"s":"L","E":17.5,"D":0.039},{"s":"L","E":17.77,"D":0.0399},{"s":"L","E":18.0,"D":0.0359},{"s":"L","E":18.2,"D":0.0351},{"s":"L","E":18.4,"D":0.0407},{"s":"L","E":18.75,"D":0.0447},{"s":"L","E":18.94,"D":0.0383},{"s":"L","E":19.3,"D":0.0335},{"s":"L","E":19.7,"D":0.0359},{"s":"L","E":19.95,"D":0.0383},
{"s":"H","E":0.05,"D":0.006},{"s":"H","E":0.2,"D":0.001},{"s":"H","E":0.5,"D":0.0005},{"s":"H","E":1.0,"D":0.0012},{"s":"H","E":1.5,"D":0.0025},{"s":"H","E":2.0,"D":0.004},{"s":"H","E":2.5,"D":0.006},{"s":"H","E":3.0,"D":0.009},{"s":"H","E":3.5,"D":0.014},{"s":"H","E":4.0,"D":0.02},{"s":"H","E":4.4,"D":0.028},{"s":"H","E":4.7,"D":0.0344},{"s":"H","E":5.1,"D":0.0399},{"s":"H","E":5.49,"D":0.0462},{"s":"H","E":5.76,"D":0.0495},{"s":"H","E":6.0,"D":0.0518},{"s":"H","E":6.27,"D":0.0542},{"s":"H","E":6.52,"D":0.0574},{"s":"H","E":6.85,"D":0.0585},{"s":"H","E":7.12,"D":0.0583},{"s":"H","E":7.35,"D":0.0597},{"s":"H","E":7.62,"D":0.059},{"s":"H","E":7.9,"D":0.0621},{"s":"H","E":8.08,"D":0.0597},{"s":"H","E":8.35,"D":0.0621},{"s":"H","E":8.6,"D":0.061},{"s":"H","E":9.0,"D":0.059},{"s":"H","E":9.5,"D":0.0565},{"s":"H","E":10.0,"D":0.0545},{"s":"H","E":10.5,"D":0.052},{"s":"H","E":11.0,"D":0.05},{"s":"H","E":11.5,"D":0.048},{"s":"H","E":12.0,"D":0.047},{"s":"H","E":12.5,"D":0.046},{"s":"H","E":13.0,"D":0.0485},{"s":"H","E":13.24,"D":0.0475},{"s":"H","E":13.4,"D":0.0438},{"s":"H","E":13.8,"D":0.041},{"s":"H","E":14.2,"D":0.039},{"s":"H","E":14.6,"D":0.04},{"s":"H","E":15.06,"D":0.0407},{"s":"H","E":15.5,"D":0.038},{"s":"H","E":16.0,"D":0.04},{"s":"H","E":16.5,"D":0.041},{"s":"H","E":17.0,"D":0.0399},{"s":"H","E":17.5,"D":0.0395},{"s":"H","E":18.0,"D":0.04},{"s":"H","E":18.5,"D":0.041},{"s":"H","E":19.0,"D":0.042},{"s":"H","E":19.3,"D":0.0414},{"s":"H","E":19.7,"D":0.04},{"s":"H","E":20.0,"D":0.04}
],
"IB": [
{"s":"T","E":0.05,"D":0.006},{"s":"T","E":0.2,"D":0.002},{"s":"T","E":0.75,"D":0.005},{"s":"T","E":1.2,"D":0.008},{"s":"T","E":1.6,"D":0.012},{"s":"T","E":2.0,"D":0.016},{"s":"T","E":2.3,"D":0.019},{"s":"T","E":2.7,"D":0.021},{"s":"T","E":3.0,"D":0.024},{"s":"T","E":3.4,"D":0.028},{"s":"T","E":3.7,"D":0.031},{"s":"T","E":4.0,"D":0.035},{"s":"T","E":4.25,"D":0.0395},{"s":"T","E":4.5,"D":0.043},{"s":"T","E":4.8,"D":0.048},{"s":"T","E":5.1,"D":0.055},{"s":"T","E":5.3,"D":0.06},{"s":"T","E":5.45,"D":0.0635},{"s":"T","E":5.7,"D":0.066},{"s":"T","E":5.95,"D":0.069},{"s":"T","E":6.2,"D":0.071},{"s":"T","E":6.5,"D":0.074},{"s":"T","E":6.8,"D":0.0766},{"s":"T","E":7.0,"D":0.073},{"s":"T","E":7.2,"D":0.0705},{"s":"T","E":7.45,"D":0.073},{"s":"T","E":7.7,"D":0.072},{"s":"T","E":7.95,"D":0.07},{"s":"T","E":8.2,"D":0.069},{"s":"T","E":8.4,"D":0.064},{"s":"T","E":8.55,"D":0.06},{"s":"T","E":8.8,"D":0.063},{"s":"T","E":9.05,"D":0.0617},{"s":"T","E":9.3,"D":0.06},{"s":"T","E":9.6,"D":0.0585},{"s":"T","E":9.85,"D":0.057},{"s":"T","E":10.1,"D":0.0565},{"s":"T","E":10.4,"D":0.055},{"s":"T","E":10.65,"D":0.0533},{"s":"T","E":10.9,"D":0.051},{"s":"T","E":11.2,"D":0.0498},{"s":"T","E":11.45,"D":0.05},{"s":"T","E":11.7,"D":0.048},{"s":"T","E":12.0,"D":0.047},{"s":"T","E":12.4,"D":0.0447},{"s":"T","E":12.65,"D":0.042},{"s":"T","E":12.9,"D":0.0395},{"s":"T","E":13.15,"D":0.038},{"s":"T","E":13.4,"D":0.036},{"s":"T","E":13.7,"D":0.034},{"s":"T","E":13.95,"D":0.0326},{"s":"T","E":14.2,"D":0.035},{"s":"T","E":14.5,"D":0.036},{"s":"T","E":14.75,"D":0.033},{"s":"T","E":15.0,"D":0.0343},{"s":"T","E":15.25,"D":0.037},{"s":"T","E":15.5,"D":0.036},{"s":"T","E":15.8,"D":0.033},{"s":"T","E":16.0,"D":0.038},{"s":"T","E":16.2,"D":0.0447},{"s":"T","E":16.4,"D":0.04},{"s":"T","E":16.55,"D":0.036},{"s":"T","E":16.8,"D":0.034},{"s":"T","E":17.1,"D":0.0343},{"s":"T","E":17.35,"D":0.032},{"s":"T","E":17.6,"D":0.0326},{"s":"T","E":17.85,"D":0.036},{"s":"T","E":18.1,"D":0.0343},{"s":"T","E":18.35,"D":0.033},{"s":"T","E":18.65,"D":0.0385},{"s":"T","E":18.9,"D":0.036},{"s":"T","E":19.2,"D":0.0317},{"s":"T","E":19.45,"D":0.034},{"s":"T","E":19.7,"D":0.0352},{"s":"T","E":19.9,"D":0.036},
{"s":"G","E":0.0,"D":0.0},{"s":"G","E":0.3,"D":0.0025},{"s":"G","E":0.6,"D":0.005},{"s":"G","E":0.95,"D":0.0085},{"s":"G","E":1.3,"D":0.012},{"s":"G","E":1.65,"D":0.0145},{"s":"G","E":2.0,"D":0.017},{"s":"G","E":2.35,"D":0.0198},{"s":"G","E":2.7,"D":0.0224},{"s":"G","E":3.2,"D":0.025},{"s":"G","E":3.7,"D":0.0275},{"s":"G","E":4.25,"D":0.03},{"s":"G","E":4.8,"D":0.0326},{"s":"G","E":5.3,"D":0.035},{"s":"G","E":5.8,"D":0.0377},{"s":"G","E":6.3,"D":0.0395},{"s":"G","E":6.85,"D":0.041},{"s":"G","E":7.35,"D":0.043},{"s":"G","E":7.9,"D":0.0447},{"s":"G","E":8.4,"D":0.046},{"s":"G","E":8.95,"D":0.047},{"s":"G","E":9.45,"D":0.0485},{"s":"G","E":9.95,"D":0.0498},{"s":"G","E":10.5,"D":0.0508},{"s":"G","E":11.0,"D":0.0513},{"s":"G","E":11.5,"D":0.0515},{"s":"G","E":12.0,"D":0.0513},{"s":"G","E":12.5,"D":0.0512},{"s":"G","E":13.1,"D":0.0508},{"s":"G","E":13.6,"D":0.0505},{"s":"G","E":14.15,"D":0.0498},{"s":"G","E":14.7,"D":0.049},{"s":"G","E":15.2,"D":0.048},{"s":"G","E":15.7,"D":0.047},{"s":"G","E":16.25,"D":0.0457},{"s":"G","E":16.8,"D":0.044},{"s":"G","E":17.3,"D":0.0421},{"s":"G","E":17.8,"D":0.0412},{"s":"G","E":18.35,"D":0.0406},{"s":"G","E":18.9,"D":0.0395},{"s":"G","E":19.4,"D":0.0385},{"s":"G","E":19.7,"D":0.039},{"s":"G","E":19.9,"D":0.0395}
]
},
"vconcat": [
{
 "width": 519, "height": 420,
 "title": {"text": "a)", "orient": "bottom", "anchor": "end", "frame": "group", "font": "Liberation Serif", "fontSize": 18, "fontWeight": "bold", "color": "black", "offset": -14, "dx": 8},
 "resolve": {"scale": {"x": "independent", "y": "independent", "color": "independent"}, "legend": {"color": "independent"}},
 "layer": [
  {
   "data": {"name": "A"},
   "encoding": {
    "x": {"field": "E", "type": "quantitative", "scale": {"domain": [0, 20], "nice": false, "zero": false},
      "axis": {"orient": "bottom", "values": [0, 2.5, 5, 7.5, 10, 12.5, 15, 17.5, 20], "labelExpr": "datum.value % 5 === 0 ? datum.label : ''", "tickSize": {"condition": {"test": "datum.value % 5 === 0", "value": 7}, "value": 4}, "tickWidth": 1.5, "domainWidth": 1.5, "labelFontSize": 16, "labelPadding": 10, "title": "E(meV)", "titleFontSize": 18, "titlePadding": 16}},
    "y": {"field": "D", "type": "quantitative", "scale": {"domain": [0, 0.1], "nice": false},
      "axis": {"orient": "left", "values": [0, 0.005, 0.01, 0.015, 0.02, 0.025, 0.03, 0.035, 0.04, 0.045, 0.05, 0.055, 0.06, 0.065, 0.07, 0.075, 0.08, 0.085, 0.09, 0.095, 0.1], "format": ".2f", "labelExpr": "round(datum.value*1000) % 10 === 0 ? datum.label : ''", "tickSize": {"condition": {"test": "round(datum.value*1000) % 10 === 0", "value": 8}, "value": 5}, "tickWidth": 1.5, "domainWidth": 1.5, "labelFontSize": 16, "labelPadding": 5, "title": "DOS", "titleFontSize": 20, "titlePadding": 10}},
    "color": {"field": "s", "type": "nominal", "scale": {"domain": ["N", "M", "_", "H", "L"], "range": ["#862b7e", "#a983c9", "#ffffff", "#000000", "#b4402a"]},
      "legend": {"title": null, "orient": "none", "legendX": 23, "legendY": 25, "padding": 0, "symbolSize": 100, "labelOffset": 17, "labelFontSize": 15, "labelLimit": 600, "rowPadding": 1,
        "labelExpr": "datum.value === 'N' ? 'd-Nagma 200 K, h=50% H₂O' : datum.value === 'M' ? 'd-MBP 100 K, h=40% H₂O' : datum.value === 'H' ? 'HDA, 75K' : datum.value === 'L' ? 'LDA, 75K' : ' '",
        "encode": {"symbols": {"update": {
          "shape": {"signal": "datum.value === 'N' ? 'M-3.6,0H3.6M-0.7,-0.7H0.7V0.7H-0.7Z' : datum.value === 'M' ? 'M-3.6,0H-0.8M0.8,0H3.6M0.8,0A0.8,0.8 0 1,1 -0.8,0A0.8,0.8 0 1,1 0.8,0ZM0.68,0A0.68,0.68 0 1,0 -0.68,0A0.68,0.68 0 1,0 0.68,0Z' : 'M-3.6,0H3.6'"},
          "size": {"value": 100},
          "stroke": {"signal": "datum.value === 'N' ? '#862b7e' : datum.value === 'M' ? '#a983c9' : datum.value === 'H' ? '#000000' : '#b4402a'"},
          "strokeWidth": {"signal": "datum.value === 'H' ? 3 : datum.value === 'L' ? 2 : 1"},
          "strokeDash": {"signal": "datum.value === 'L' ? [0.5, 3.5] : [1, 0]"},
          "strokeCap": {"signal": "datum.value === 'L' ? 'round' : 'butt'"},
          "opacity": {"signal": "datum.value === '_' ? 0 : 1"}
        }}}}}
   },
   "layer": [
    {"transform": [{"filter": "datum.s === 'L'"}], "mark": {"type": "line", "strokeWidth": 2, "strokeDash": [0.5, 3.5], "strokeCap": "round"}},
    {"transform": [{"filter": "datum.s === 'N'"}], "mark": {"type": "line", "strokeWidth": 1}},
    {"transform": [{"filter": "datum.s === 'N'"}], "mark": {"type": "point", "shape": "square", "filled": true, "size": 64, "opacity": 1}},
    {"transform": [{"filter": "datum.s === 'H'"}], "mark": {"type": "line", "strokeWidth": 3}},
    {"transform": [{"filter": "datum.s === 'M'"}], "mark": {"type": "line", "strokeWidth": 0.8}},
    {"transform": [{"filter": "datum.s === 'M'"}], "mark": {"type": "point", "shape": "circle", "filled": false, "fill": "#ffffff", "size": 42, "strokeWidth": 1, "opacity": 1}}
   ]
  },
  {
   "data": {"name": "A"},
   "transform": [{"filter": "datum.s === 'H'"}],
   "mark": {"type": "point", "opacity": 0},
   "encoding": {
    "x": {"field": "E", "type": "quantitative", "scale": {"domain": [0, 20], "nice": false, "zero": false},
      "axis": {"orient": "top", "values": [0, 2.5, 5, 7.5, 10, 12.5, 15, 17.5, 20], "labels": false, "title": null, "tickSize": {"condition": {"test": "datum.value % 5 === 0", "value": -8}, "value": -4}, "tickWidth": 1.5, "domainWidth": 1.5}},
    "y": {"field": "D", "type": "quantitative", "scale": {"domain": [0, 0.1], "nice": false},
      "axis": {"orient": "right", "values": [0, 0.01, 0.02, 0.03, 0.04, 0.05, 0.06, 0.07, 0.08, 0.09, 0.1], "labels": false, "title": null, "tickSize": -8, "tickWidth": 1.5, "domainWidth": 1.5}}
   }
  },
  {
   "layer": [
    {"data": {"values": [{}]}, "mark": {"type": "rect", "fill": "#ffffff", "stroke": "#000000", "strokeWidth": 1},
     "encoding": {
      "x": {"datum": 0, "type": "quantitative", "scale": {"domain": [0, 20], "range": [325, 519], "nice": false, "zero": false},
        "axis": {"orient": "bottom", "offset": -252, "values": [0, 5, 10, 15, 20], "tickSize": 3, "tickWidth": 1, "domainWidth": 1, "labelFontSize": 6.5, "labelPadding": 2, "title": "E(meV)", "titleFontSize": 10.5, "titlePadding": 5}},
      "x2": {"datum": 20},
      "y": {"datum": 0, "type": "quantitative", "scale": {"domain": [0, 0.07], "range": [168, 0], "nice": false},
        "axis": {"orient": "left", "offset": -325, "values": [0, 0.01, 0.02, 0.03, 0.04, 0.05, 0.06, 0.07], "format": ".2f", "tickSize": 3, "tickWidth": 1, "domainWidth": 1, "labelFontSize": 5.5, "labelPadding": 2, "title": "DOS", "titleFontSize": 10.5, "titlePadding": 4}},
      "y2": {"datum": 0.07}
     }},
    {"data": {"name": "IA"},
     "encoding": {
      "x": {"field": "E", "type": "quantitative", "scale": {"domain": [0, 20], "range": [325, 519], "nice": false, "zero": false},
        "axis": {"orient": "bottom", "offset": -252, "values": [0, 5, 10, 15, 20], "tickSize": 3, "tickWidth": 1, "domainWidth": 1, "labelFontSize": 6.5, "labelPadding": 2, "title": "E(meV)", "titleFontSize": 10.5, "titlePadding": 5}},
      "y": {"field": "D", "type": "quantitative", "scale": {"domain": [0, 0.07], "range": [168, 0], "nice": false},
        "axis": {"orient": "left", "offset": -325, "values": [0, 0.01, 0.02, 0.03, 0.04, 0.05, 0.06, 0.07], "format": ".2f", "tickSize": 3, "tickWidth": 1, "domainWidth": 1, "labelFontSize": 5.5, "labelPadding": 2, "title": "DOS", "titleFontSize": 10.5, "titlePadding": 4}},
      "color": {"field": "s", "type": "nominal", "scale": {"domain": ["N", "G"], "range": ["#862b7e", "#178a3b"]},
        "legend": {"title": null, "orient": "none", "legendX": 359.5, "legendY": 128, "padding": 0, "symbolSize": 36, "labelOffset": 8.5, "labelFontSize": 10, "labelLimit": 400, "rowPadding": 5,
          "labelExpr": "datum.value === 'N' ? 'd-Nagma 200 K, h=50% H₂O' : 'h-Nagma 200 K, h=50% D₂O'",
          "encode": {"symbols": {"update": {
            "shape": {"signal": "datum.value === 'N' ? 'M-3.8,0H3.8M-0.5,-0.5H0.5V0.5H-0.5Z' : 'M-3.8,0H3.8'"},
            "size": {"value": 36},
            "stroke": {"signal": "datum.value === 'N' ? '#862b7e' : '#178a3b'"},
            "strokeWidth": {"signal": "datum.value === 'N' ? 0.8 : 2.5"},
            "opacity": {"value": 1}
          }}}}}
     },
     "layer": [
      {"transform": [{"filter": "datum.s === 'N'"}], "mark": {"type": "line", "strokeWidth": 0.7}},
      {"transform": [{"filter": "datum.s === 'N'"}], "mark": {"type": "point", "shape": "square", "filled": true, "size": 9, "opacity": 1}},
      {"transform": [{"filter": "datum.s === 'G'"}], "mark": {"type": "line", "strokeWidth": 2.5}}
     ]}
   ]
  }
 ]
},
{
 "width": 516, "height": 418,
 "title": {"text": "b)", "orient": "bottom", "anchor": "end", "frame": "group", "font": "Liberation Serif", "fontSize": 18, "fontWeight": "bold", "color": "black", "offset": -19, "dx": 8},
 "resolve": {"scale": {"x": "independent", "y": "independent", "color": "independent"}, "legend": {"color": "independent"}},
 "layer": [
  {
   "data": {"name": "B"},
   "encoding": {
    "x": {"field": "E", "type": "quantitative", "scale": {"domain": [0, 20], "nice": false, "zero": false},
      "axis": {"orient": "bottom", "values": [0, 2.5, 5, 7.5, 10, 12.5, 15, 17.5, 20], "labelExpr": "datum.value % 5 === 0 ? datum.label : ''", "tickSize": {"condition": {"test": "datum.value % 5 === 0", "value": 7}, "value": 4}, "tickWidth": 1.5, "domainWidth": 1.5, "labelFontSize": 16, "labelPadding": 10, "title": "E(meV)", "titleFontSize": 18, "titlePadding": 16}},
    "y": {"field": "D", "type": "quantitative", "scale": {"domain": [0, 0.1], "nice": false},
      "axis": {"orient": "left", "values": [0, 0.005, 0.01, 0.015, 0.02, 0.025, 0.03, 0.035, 0.04, 0.045, 0.05, 0.055, 0.06, 0.065, 0.07, 0.075, 0.08, 0.085, 0.09, 0.095, 0.1], "format": ".2f", "labelExpr": "round(datum.value*1000) % 10 === 0 ? datum.label : ''", "tickSize": {"condition": {"test": "round(datum.value*1000) % 10 === 0", "value": 8}, "value": 5}, "tickWidth": 1.5, "domainWidth": 1.5, "labelFontSize": 16, "labelPadding": 5, "title": "DOS", "titleFontSize": 20, "titlePadding": 10}},
    "color": {"field": "s", "type": "nominal", "scale": {"domain": ["T", "M", "_", "L", "H"], "range": ["#842a7e", "#8c4fb2", "#ffffff", "#000000", "#b4402a"]},
      "legend": {"title": null, "orient": "none", "legendX": 20, "legendY": 20, "padding": 0, "symbolSize": 100, "labelOffset": 12, "labelFontSize": 15, "labelLimit": 600, "rowPadding": 1,
        "labelExpr": "datum.value === 'T' ? 'd-Nalma 200 K, h=60% H₂O' : datum.value === 'M' ? 'd-MBP 100 K, h=40% H₂O' : datum.value === 'L' ? 'LDA, 75K' : datum.value === 'H' ? 'HDA, 75K' : ' '",
        "encode": {"symbols": {"update": {
          "shape": {"signal": "datum.value === 'T' ? 'M-3.5,0H3.5M0,-0.95L0.95,0.75H-0.95Z' : datum.value === 'M' ? 'M-3.5,0H-1.15M1.15,0H3.5M1.15,0A1.15,1.15 0 1,1 -1.15,0A1.15,1.15 0 1,1 1.15,0ZM1.03,0A1.03,1.03 0 1,0 -1.03,0A1.03,1.03 0 1,0 1.03,0Z' : 'M-3.5,0H3.5'"},
          "size": {"value": 100},
          "stroke": {"signal": "datum.value === 'T' ? '#842a7e' : datum.value === 'M' ? '#8c4fb2' : datum.value === 'L' ? '#000000' : '#b4402a'"},
          "strokeWidth": {"signal": "datum.value === 'L' ? 3 : datum.value === 'H' ? 2 : 1"},
          "strokeDash": {"signal": "datum.value === 'H' ? [0.5, 3.5] : [1, 0]"},
          "strokeCap": {"signal": "datum.value === 'H' ? 'round' : 'butt'"},
          "opacity": {"signal": "datum.value === '_' ? 0 : 1"}
        }}}}}
   },
   "layer": [
    {"transform": [{"filter": "datum.s === 'H'"}], "mark": {"type": "line", "strokeWidth": 2, "strokeDash": [0.5, 3.5], "strokeCap": "round"}},
    {"transform": [{"filter": "datum.s === 'T'"}], "mark": {"type": "line", "strokeWidth": 1}},
    {"transform": [{"filter": "datum.s === 'T'"}], "mark": {"type": "point", "shape": "triangle-up", "filled": true, "size": 100, "opacity": 1}},
    {"transform": [{"filter": "datum.s === 'L'"}], "mark": {"type": "line", "strokeWidth": 3}},
    {"transform": [{"filter": "datum.s === 'M'"}], "mark": {"type": "line", "strokeWidth": 0.8}},
    {"transform": [{"filter": "datum.s === 'M'"}], "mark": {"type": "point", "shape": "circle", "filled": false, "fill": "#ffffff", "size": 100, "strokeWidth": 1, "opacity": 1}}
   ]
  },
  {
   "data": {"name": "B"},
   "transform": [{"filter": "datum.s === 'L'"}],
   "mark": {"type": "point", "opacity": 0},
   "encoding": {
    "x": {"field": "E", "type": "quantitative", "scale": {"domain": [0, 20], "nice": false, "zero": false},
      "axis": {"orient": "top", "values": [0, 2.5, 5, 7.5, 10, 12.5, 15, 17.5, 20], "labels": false, "title": null, "tickSize": {"condition": {"test": "datum.value % 5 === 0", "value": -8}, "value": -4}, "tickWidth": 1.5, "domainWidth": 1.5}},
    "y": {"field": "D", "type": "quantitative", "scale": {"domain": [0, 0.1], "nice": false},
      "axis": {"orient": "right", "values": [0, 0.01, 0.02, 0.03, 0.04, 0.05, 0.06, 0.07, 0.08, 0.09, 0.1], "labels": false, "title": null, "tickSize": -8, "tickWidth": 1.5, "domainWidth": 1.5}}
   }
  },
  {
   "layer": [
    {"data": {"values": [{}]}, "mark": {"type": "rect", "fill": "#ffffff", "stroke": "#000000", "strokeWidth": 1},
     "encoding": {
      "x": {"datum": 0, "type": "quantitative", "scale": {"domain": [0, 20], "range": [323, 516], "nice": false, "zero": false},
        "axis": {"orient": "bottom", "offset": -250, "values": [0, 5, 10, 15, 20], "tickSize": 3, "tickWidth": 1, "domainWidth": 1, "labelFontSize": 6.5, "labelPadding": 2, "title": "E(meV)", "titleFontSize": 10.5, "titlePadding": 5}},
      "x2": {"datum": 20},
      "y": {"datum": 0, "type": "quantitative", "scale": {"domain": [0, 0.0865], "range": [168, 0], "nice": false},
        "axis": {"orient": "left", "offset": -323, "values": [0, 0.01, 0.02, 0.03, 0.04, 0.05, 0.06, 0.07, 0.08], "format": ".2f", "tickSize": 3, "tickWidth": 1, "domainWidth": 1, "labelFontSize": 5.5, "labelPadding": 2, "title": "DOS", "titleFontSize": 10.5, "titlePadding": 4}},
      "y2": {"datum": 0.0865}
     }},
    {"data": {"name": "IB"},
     "encoding": {
      "x": {"field": "E", "type": "quantitative", "scale": {"domain": [0, 20], "range": [323, 516], "nice": false, "zero": false},
        "axis": {"orient": "bottom", "offset": -250, "values": [0, 5, 10, 15, 20], "tickSize": 3, "tickWidth": 1, "domainWidth": 1, "labelFontSize": 6.5, "labelPadding": 2, "title": "E(meV)", "titleFontSize": 10.5, "titlePadding": 5}},
      "y": {"field": "D", "type": "quantitative", "scale": {"domain": [0, 0.0865], "range": [168, 0], "nice": false},
        "axis": {"orient": "left", "offset": -323, "values": [0, 0.01, 0.02, 0.03, 0.04, 0.05, 0.06, 0.07, 0.08], "format": ".2f", "tickSize": 3, "tickWidth": 1, "domainWidth": 1, "labelFontSize": 5.5, "labelPadding": 2, "title": "DOS", "titleFontSize": 10.5, "titlePadding": 4}},
      "color": {"field": "s", "type": "nominal", "scale": {"domain": ["T", "G"], "range": ["#842a7e", "#178a3b"]},
        "legend": {"title": null, "orient": "none", "legendX": 369, "legendY": 134, "padding": 0, "symbolSize": 36, "labelOffset": 11, "labelFontSize": 10, "labelLimit": 400, "rowPadding": 3,
          "labelExpr": "datum.value === 'T' ? 'd-Nalma 200 K, h=60% H₂O' : 'h-Nalma 200 K, h=60% D₂O'",
          "encode": {"symbols": {"update": {
            "shape": {"signal": "datum.value === 'T' ? 'M-4,0H4M0,-0.9L0.85,0.6H-0.85Z' : 'M-4,0H4'"},
            "size": {"value": 36},
            "stroke": {"signal": "datum.value === 'T' ? '#842a7e' : '#178a3b'"},
            "strokeWidth": {"signal": "datum.value === 'T' ? 0.8 : 2.5"},
            "opacity": {"value": 1}
          }}}}}
     },
     "layer": [
      {"transform": [{"filter": "datum.s === 'T'"}], "mark": {"type": "line", "strokeWidth": 0.7}},
      {"transform": [{"filter": "datum.s === 'T'"}], "mark": {"type": "point", "shape": "triangle-up", "filled": true, "size": 16, "opacity": 1}},
      {"transform": [{"filter": "datum.s === 'G'"}], "mark": {"type": "line", "strokeWidth": 2.5}}
     ]}
   ]
  }
 ]
}
]
}
